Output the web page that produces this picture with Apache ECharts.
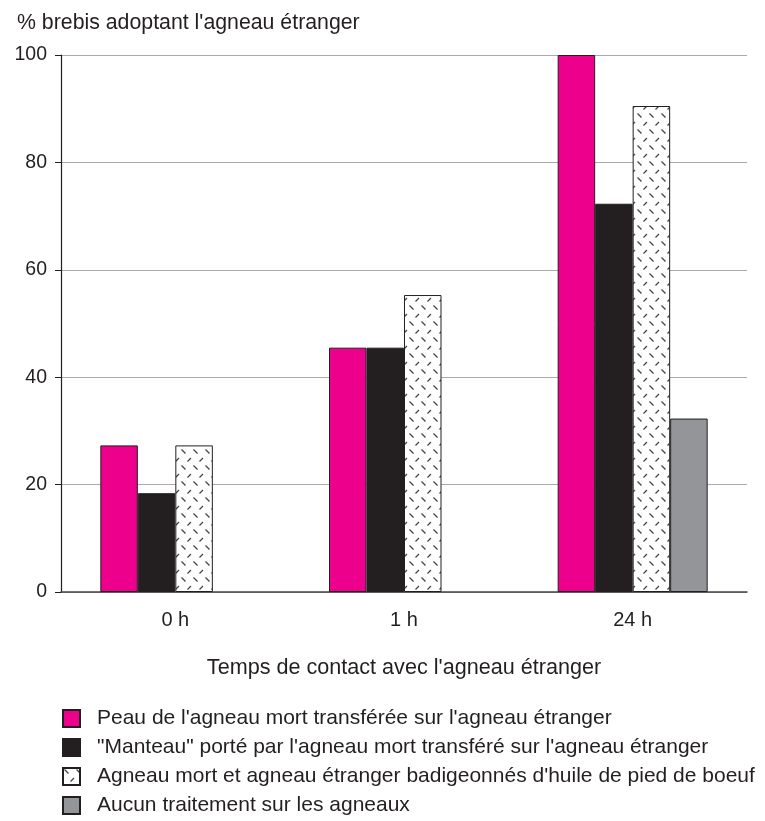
<!DOCTYPE html>
<html>
<head>
<meta charset="utf-8">
<script src="https://cdn.jsdelivr.net/npm/echarts@6/dist/echarts.min.js"></script>
<style>
  body { margin: 0; background: #fff; }
  #chart { width: 765px; height: 821px; }
</style>
</head>
<body>
<div id="chart"></div>
<script>
const categories = ['0 h', '1 h', '24 h'];
const seriesNames = [
	"Peau de l'agneau mort transférée sur l'agneau étranger",
	'"Manteau" porté par l\'agneau mort transféré sur l\'agneau étranger',
	"Agneau mort et agneau étranger badigeonnés d'huile de pied de boeuf",
	'Aucun traitement sur les agneaux',
];
const peau = [27.3, 45.5, 100];
const manteau = [18.4, 45.5, 72.3];
const huile = [27.3, 55.3, 90.5];
const aucun = [null, null, 32.3];
const yTicks = { min: 0, max: 100, interval: 20 };

// motif hachuré (petits tirets en diagonale)
const makePattern = () => {
	const c = document.createElement('canvas');
	c.width = 12;
	c.height = 16;
	const ctx = c.getContext('2d');
	ctx.fillStyle = '#fff';
	ctx.fillRect(0, 0, 12, 16);
	ctx.strokeStyle = '#444';
	ctx.lineWidth = 1.3;
	ctx.beginPath();
	ctx.moveTo(1.5, 1.5); ctx.lineTo(5.5, 5.5);
	ctx.moveTo(7.5, 13.5); ctx.lineTo(11, 10);
	ctx.stroke();
	return c;
};
const hatch = { image: makePattern(), repeat: 'repeat' };

const font = 'Liberation Sans, Arial, sans-serif';
const ink = '#231f20';
const bar = (name, data, color) => ({
	name,
	type: 'bar',
	data,
	barWidth: 37.5,
	barGap: '0%',
	itemStyle: { color, borderColor: ink, borderWidth: 1 },
});

const chart = echarts.init(document.getElementById('chart'));
chart.setOption({
	animation: false,
	textStyle: { fontFamily: font },
	title: {
		text: "% brebis adoptant l'agneau étranger",
		left: 12,
		top: 8,
		textStyle: { fontSize: 21.3, fontWeight: 'normal', color: ink, fontFamily: font },
	},
	legend: {
		orient: 'vertical',
		left: 62,
		top: 708,
		height: 140,
		padding: 0,
		itemWidth: 17,
		itemHeight: 17,
		itemGap: 8,
		icon: 'rect',
		textStyle: {
			fontSize: 21, lineHeight: 17, color: ink, fontFamily: font, padding: [0, 0, 0, 12],
		},
		data: seriesNames,
	},
	grid: { left: 61, right: 18, top: 55, bottom: 229 },
	xAxis: {
		type: 'category',
		data: categories,
		name: "Temps de contact avec l'agneau étranger",
		nameLocation: 'middle',
		nameGap: 65,
		nameTextStyle: { fontSize: 21.6, color: ink, fontFamily: font },
		axisLine: { lineStyle: { color: '#444', width: 1.5 } },
		axisTick: { show: false },
		axisLabel: { fontSize: 20, color: ink, margin: 18 },
	},
	yAxis: {
		type: 'value',
		min: yTicks.min,
		max: yTicks.max,
		interval: yTicks.interval,
		axisLine: { show: true, lineStyle: { color: ink, width: 1.2 } },
		axisTick: { show: true, length: 6, lineStyle: { color: ink } },
		axisLabel: { fontSize: 19.5, color: ink, margin: 14 },
		splitLine: { lineStyle: { color: '#aaa', width: 1.2 } },
	},
	series: [
		bar(seriesNames[0], peau, '#ec008c'),
		bar(seriesNames[1], manteau, ink),
		bar(seriesNames[2], huile, hatch),
		bar(seriesNames[3], aucun, '#939598'),
	],
});
</script>
</body>
</html>
